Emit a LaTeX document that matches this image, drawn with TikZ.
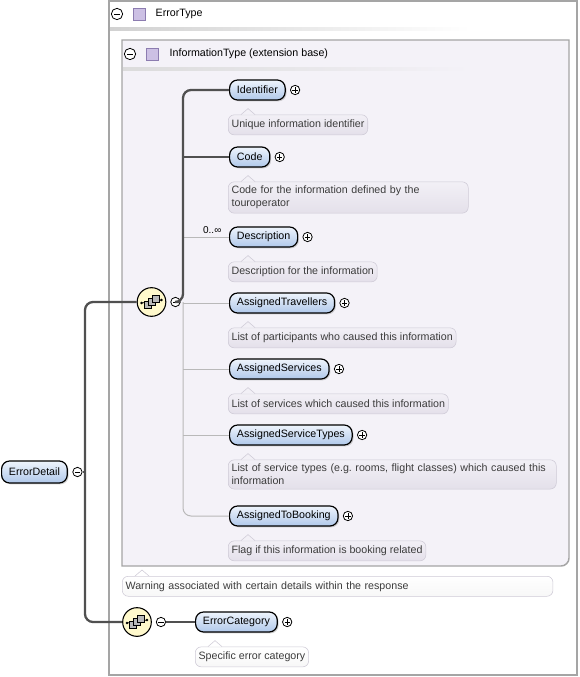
\documentclass[tikz,border=0pt]{standalone}
\usepackage{fontspec}
\newfontfamily\uifont{Liberation Sans}
\usetikzlibrary{positioning,shadows}
\frenchspacing

\definecolor{framegray}{RGB}{165,165,165}
\definecolor{boxfill}{RGB}{244,242,248}
\definecolor{doctop}{RGB}{242,240,246}
\definecolor{docbot}{RGB}{228,224,234}
\definecolor{docline}{RGB}{206,202,214}
\definecolor{doctext}{RGB}{60,60,60}
\definecolor{elemtop}{RGB}{238,244,252}
\definecolor{elembot}{RGB}{176,200,234}
\definecolor{seqfill}{RGB}{255,249,204}
\definecolor{linkdark}{RGB}{80,80,80}
\definecolor{linklight}{RGB}{185,185,185}
\definecolor{typesq}{RGB}{204,192,228}
\definecolor{typesqline}{RGB}{140,124,176}

\begin{document}
\begin{tikzpicture}[x=0.75pt,y=-0.75pt,font=\uifont\fontsize{8}{10}\selectfont,
    elem/.style={draw,line width=0.9pt,rounded corners=6pt,top color=elemtop,
      bottom color=elembot,minimum height=15pt,inner xsep=5.5pt,inner ysep=0pt,
      anchor=west,drop shadow={shadow xshift=1pt,shadow yshift=-1pt,opacity=0.35}},
    doc/.style={draw=docline,top color=doctop,bottom color=docbot,rounded corners=4.5pt,
      minimum height=15pt,inner xsep=2.5pt,inner ysep=3pt,text=doctext,align=left,
      anchor=north west},
    docw/.style={doc,top color=white,bottom color=white!97!black},
    oneline/.style={},
    codew/.style={text width=175pt},
    typew/.style={text width=241pt},
    pm/.style={circle,draw,fill=white,inner sep=0pt,minimum size=7pt,line width=0.6pt},
    plus/.style={pm,path picture={\draw[line width=0.5pt]
        ([xshift=-2pt]path picture bounding box.center) -- ([xshift=2pt]path picture bounding box.center)
        ([yshift=-2pt]path picture bounding box.center) -- ([yshift=2pt]path picture bounding box.center);}},
    minus/.style={pm,path picture={\draw[line width=0.5pt]
        ([xshift=-2pt]path picture bounding box.center) -- ([xshift=2pt]path picture bounding box.center);}},
    seq/.style={circle,draw,line width=0.8pt,fill=seqfill,minimum size=21.5pt,inner sep=0pt},
    typesq/.style={draw=typesqline,fill=typesq,minimum size=9pt,inner sep=0pt},
    strong/.style={draw=linkdark,line width=1.7pt,rounded corners=6pt},
    weak/.style={draw=linklight,line width=0.75pt,rounded corners=6pt}]
  \useasboundingbox (0,0) rectangle (579,677);
  % outer type box
  \draw[framegray,line width=1.1pt,fill=white] (109,1) rectangle (577,675);
  \node[minus,minimum size=8.5pt] (errtm) at (117,14) {};
  \node[typesq] (errts) at (139,14) {};
  \node[anchor=west] (errt) at (151,14) {ErrorType};
  \shade[left color=black!18,right color=white] (110,28) rectangle (470,30.5);
  % extension base box
  \draw[framegray,line width=1.1pt,fill=boxfill] (122,566) -- (122,40) -- (569,40)
  {[rounded corners=6pt] -- (569,566)} -- cycle;
  \node[minus,minimum size=8.5pt] (infotm) at (130,54) {};
  \node[typesq] (infots) at (152,54) {};
  \node[anchor=west] (infot) at (165,54) {InformationType (extension base)};
  \shade[left color=black!14,right color=boxfill] (123,68) rectangle (470,70.5);
  % child elements
  \foreach \n/\t/\y/\d/\w in {
    id/Identifier/90/{Unique information identifier}/oneline,
    code/Code/157/{Code for the information defined by the\\touroperator}/codew,
    descr/Description/237/{Description for the information}/oneline,
    trav/AssignedTravellers/303/{List of participants who caused this information}/oneline,
    serv/AssignedServices/369/{List of services which caused this information}/oneline,
    stypes/AssignedServiceTypes/435/{List of service types (e.g. rooms, flight classes) which caused this\\information}/typew,
    book/AssignedToBooking/516/{Flag if this information is booking related}/oneline}
  {\node[elem] (\n) at (229,\y) {\t};
    \node[plus,right=3.2pt of \n] (\n plus) {};
    \node[doc,\w] (\n doc) at ([shift={(-1,14)}]\n.south west) {\d};
    \draw[docline,fill=doctop] ([shift={(13,0)}]\n doc.north west) -- ++(7,-6) -- ++(7,6);}
  \node[anchor=south east,inner sep=1pt,font=\uifont\fontsize{7.5}{9}\selectfont]
  (descrocc) at ([shift={(-6,-2)}]descr.west) {0..∞};
  % ErrorDetail and its sequences
  \node[elem,minimum height=16.5pt] (detail) at (1,472) {ErrorDetail};
  \node[minus,right=3.4pt of detail] (detailm) {};
  \node[seq] (seq1) at (151.5,302) {};
  \node[minus,right=3pt of seq1] (seq1m) {};
  \node[seq] (seq2) at (137,622) {};
  \node[minus,right=3pt of seq2] (seq2m) {};
  \node[docw,text width=318pt] (warn) at (122,576)
  {Warning associated with certain details within the response};
  \draw[docline,fill=white] ([shift={(13,0)}]warn.north west) -- ++(7,-6) -- ++(7,6);
  \node[elem] (ecat) at (195,622) {ErrorCategory};
  \node[plus,right=3.2pt of ecat] (ecatplus) {};
  \node[docw] (ecatdoc) at ([shift={(0,14)}]ecat.south west) {Specific error category};
  \draw[docline,fill=white] ([shift={(13,0)}]ecatdoc.north west) -- ++(7,-6) -- ++(7,6);
  % sequence symbols
  \foreach \s in {seq1,seq2}
  {\draw[line width=0.6pt] ([shift={(-10,1)}]\s.center) -- ([shift={(10,-2)}]\s.center);
    \fill ([shift={(-10,1)}]\s.center) circle (1.1pt) ([shift={(10,-2)}]\s.center) circle (1.1pt);
    \filldraw[fill=gray!55,line width=0.5pt] ([shift={(-7.5,-0.5)}]\s.center) rectangle ++(7,7);
    \filldraw[fill=gray!55,line width=0.5pt] ([shift={(-3.5,-3.5)}]\s.center) rectangle ++(7,7);
    \filldraw[fill=gray!55,line width=0.5pt] ([shift={(0.5,-6.5)}]\s.center) rectangle ++(7,7);}
  % connectors
  \coordinate (hub0) at (85,472);
  \coordinate (hub1) at (183,302);
  \draw[strong] (detailm) -- (hub0);
  \draw[strong] (seq1.west) -| (hub0) |- (seq2.west);
  \draw[strong] (seq2m) -- (ecat);
  \draw[weak] (hub1) |- (book);
  \foreach \n in {descr,trav,serv,stypes}
    \draw[weak] (hub1 |- \n) -- (\n);
  \draw[strong] (seq1m) -- (hub1) |- (id);
  \draw[strong] (hub1 |- code) -- (code);
\end{tikzpicture}
\end{document}
